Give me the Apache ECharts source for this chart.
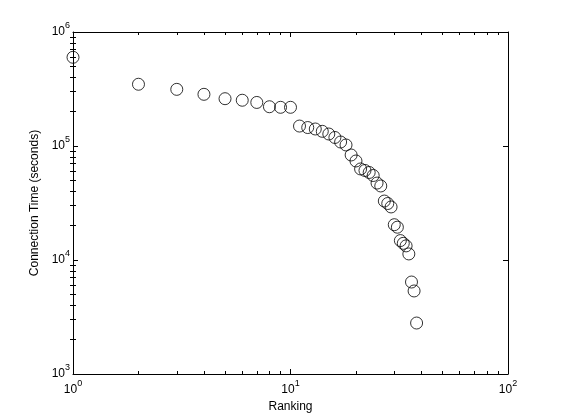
<!DOCTYPE html>
<html>
<head>
<meta charset="utf-8">
<script src="https://cdn.jsdelivr.net/npm/echarts@6/dist/echarts.min.js"></script>
<style>
  html, body { margin: 0; padding: 0; background: #fff; }
  #chart { width: 561px; height: 420px; }
</style>
</head>
<body>
<div id="chart"></div>
<script>
// ranking (x) and connection time in seconds (y)
var ranks = [1, 2, 3, 4, 5, 6, 7, 8, 9, 10,
  11, 12, 13, 14, 15, 16, 17, 18, 19, 20,
  21, 22, 23, 24, 25, 26, 27, 28, 29, 30,
  31, 32, 33, 34, 35, 36, 37, 38];
var connTimes = [600000, 348000, 314000, 284000, 260000, 252000, 241000, 221000, 218500, 218500,
  149600, 145200, 141000, 134500, 127400, 118800, 108400, 102100, 83400, 73900,
  62900, 61000, 58600, 55100, 47300, 44600, 32900, 31300, 29200, 20400,
  19400, 14800, 14000, 13300, 11300, 6410, 5350, 2800];

// minor tick positions in log10 units
var xMinor = [];
var yMinor = [];
[0, 1].forEach(function (d) {
  for (var k = 2; k <= 9; k++) xMinor.push(d + Math.log10(k));
});
[3, 4, 5].forEach(function (d) {
  for (var k = 2; k <= 9; k++) yMinor.push(d + Math.log10(k));
});

var font = "'Liberation Sans', Arial, Helvetica, sans-serif";
var black = '#000';

function powLabel(value) {
  var e = Math.round(Math.log10(value));
  return '{b|10}{s|' + e + '}';
}

var richStyle = {
  b: { fontSize: 12, fontFamily: font, color: black, lineHeight: 22, verticalAlign: 'middle' },
  s: { fontSize: 9, fontFamily: font, color: black, lineHeight: 9, verticalAlign: 'top' }
};

function majorAxis(type, pos, min, max, labels) {
  return {
    type: 'log',
    logBase: 10,
    position: pos,
    min: min,
    max: max,
    axisLine: { show: true, onZero: false, lineStyle: { color: black, width: 1 } },
    axisTick: { show: true, inside: true, length: 5, lineStyle: { color: black } },
    axisLabel: labels ? {
      show: true,
      margin: type === 'x' ? 5 : 3,
      formatter: powLabel,
      rich: richStyle
    } : { show: false },
    splitLine: { show: false },
    minorTick: { show: false }
  };
}

function minorAxis(pos, min, max, vals) {
  return {
    type: 'value',
    position: pos,
    min: min,
    max: max,
    axisLine: { show: false },
    axisTick: { show: true, inside: true, length: 3, customValues: vals, lineStyle: { color: black } },
    axisLabel: { show: false },
    splitLine: { show: false }
  };
}

var chart = echarts.init(document.getElementById('chart'), null, { renderer: 'canvas' });

var xMain = majorAxis('x', 'bottom', 1, 100, true);
xMain.name = 'Ranking';
xMain.nameLocation = 'middle';
xMain.nameGap = 27;
xMain.nameTextStyle = { fontSize: 12, fontFamily: font, color: black };

var yMain = majorAxis('y', 'left', 1000, 1000000, true);
yMain.name = 'Connection Time (seconds)';
yMain.nameLocation = 'middle';
yMain.nameGap = 30;
yMain.nameTextStyle = { fontSize: 12, fontFamily: font, color: black };

var option = {
  backgroundColor: '#fff',
  animation: false,
  grid: { left: 73, right: 53, top: 32, bottom: 46, containLabel: false },
  xAxis: [
    xMain,
    majorAxis('x', 'top', 1, 100, false),
    minorAxis('bottom', 0, 2, xMinor),
    minorAxis('top', 0, 2, xMinor)
  ],
  yAxis: [
    yMain,
    majorAxis('y', 'right', 1000, 1000000, false),
    minorAxis('left', 3, 6, yMinor),
    minorAxis('right', 3, 6, yMinor)
  ],
  series: [{
    type: 'scatter',
    xAxisIndex: 0,
    yAxisIndex: 0,
    symbol: 'circle',
    symbolSize: 12,
    clip: false,
    itemStyle: { color: 'rgba(0,0,0,0)', borderColor: black, borderWidth: 1 },
    data: ranks.map(function (r, i) { return [r, connTimes[i]]; })
  }]
};

chart.setOption(option);
window.addEventListener('resize', function () {
  chart.resize();
});
</script>
</body>
</html>
